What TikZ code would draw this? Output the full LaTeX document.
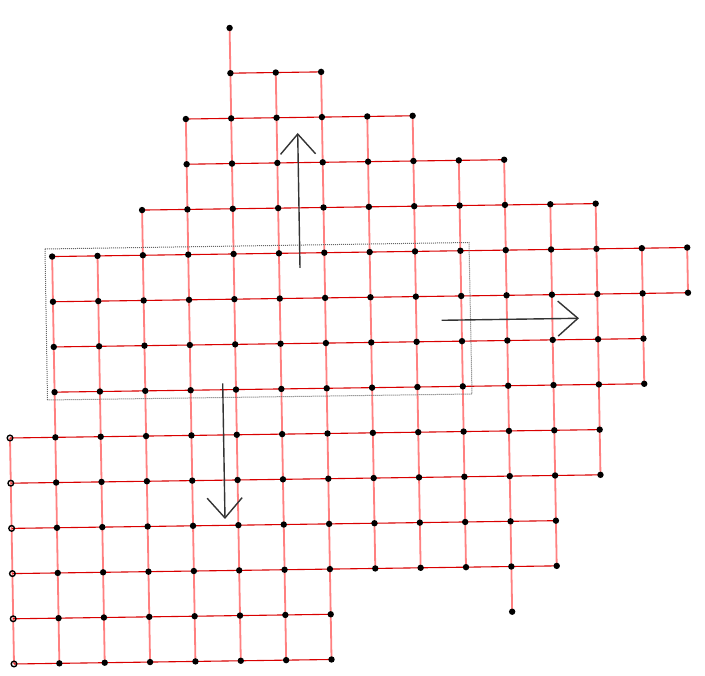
\documentclass[tikz,border=0pt]{standalone}
\usetikzlibrary{arrows.meta,backgrounds}
\tikzset{
  dot/.style={circle,fill=black,draw=none,inner sep=0pt,minimum size=6.4pt},
  ring/.style={circle,fill=none,draw=black,line width=1.4pt,inner sep=0pt,minimum size=5.6pt},
  vline/.style={draw=red!50,line width=1.8pt},
  hline/.style={draw=red!85!black,line width=1.1pt},
  bigarrow/.style={draw=black!80,line width=1.4pt,-{Straight Barb[length=20pt,width=35pt,line width=1.4pt]}},
  frame/.style={draw=black!60,densely dotted,line width=1pt}
}
\begin{document}
\begin{tikzpicture}
\useasboundingbox (0,0) rectangle (705pt,676pt);
\begin{scope}[shift={(2.8pt,644.8pt)},x={(45.36pt,0.643pt)},y={(0.8pt,-45.2pt)}]
  % vertices
  \foreach \j/\a/\b in {0/5/5,1/5/7,2/4/9,3/4/11,4/3/13,5/1/15,6/1/15,7/1/14,8/1/14,9/0/13,10/0/13,11/0/12,12/0/12,13/0/7,14/0/7}{
    \foreach \i in {\a,...,\b}{
      \ifnum\i=0
        \node[ring] (v-\i-\j) at (\i,\j) {};
      \else
        \node[dot] (v-\i-\j) at (\i,\j) {};
      \fi
    }
  }
  \node[dot] (v-11-13) at (11,13) {};
  \begin{pgfonlayer}{background}
    % vertical edges (row j to row j+1)
    \foreach \j/\a/\b in {0/5/5,1/5/7,2/4/9,3/4/11,4/3/13,5/1/15,6/1/14,7/1/14,8/1/13,9/0/13,10/0/12,11/0/12,12/0/7,13/0/7}{
      \pgfmathtruncatemacro{\jn}{\j+1}
      \foreach \i in {\a,...,\b}{
        \path[vline] (v-\i-\j.center) -- (v-\i-\jn.center);
      }
    }
    \path[vline] (v-11-12.center) -- (v-11-13.center);
    % horizontal edges
    \foreach \j/\a/\b in {1/5/6,2/4/8,3/4/10,4/3/12,5/1/14,6/1/14,7/1/13,8/1/13,9/0/12,10/0/12,11/0/11,12/0/11,13/0/6,14/0/6}{
      \foreach \i in {\a,...,\b}{
        \pgfmathtruncatemacro{\in}{\i+1}
        \path[hline] (v-\i-\j.center) -- (v-\in-\j.center);
      }
    }
  \end{pgfonlayer}
\end{scope}
% dotted frame
\coordinate (fA) at (45pt,427pt);
\coordinate (fB) at (469pt,433.5pt);
\coordinate (fC) at (472pt,282pt);
\coordinate (fD) at (47.5pt,276pt);
\path[frame] (fA) -- (fB) -- (fC) -- (fD) -- cycle;
% arrows
\coordinate (upS) at (300pt,408pt);
\coordinate (upE) at (297.7pt,543pt);
\coordinate (rtS) at (441.7pt,355.7pt);
\coordinate (rtE) at (579pt,357.7pt);
\coordinate (dnS) at (222.7pt,292.7pt);
\coordinate (dnE) at (225pt,157pt);
\path[bigarrow] (upS) -- (upE);
\path[bigarrow] (rtS) -- (rtE);
\path[bigarrow] (dnS) -- (dnE);
\end{tikzpicture}
\end{document}
